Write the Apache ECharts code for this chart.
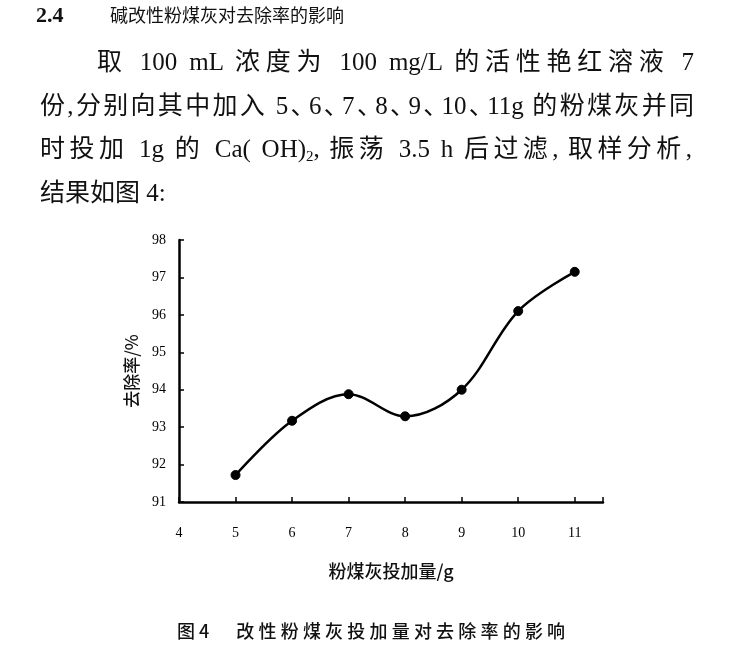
<!DOCTYPE html>
<html>
<head>
<meta charset="utf-8">
<script src="https://cdn.jsdelivr.net/npm/echarts@6/dist/echarts.min.js"></script>
<style>
  html, body { margin: 0; padding: 0; background: #fff; }
  #wrap { position: relative; width: 734px; height: 658px; overflow: hidden; }
  #chart { position: absolute; left: 0; top: 0; width: 734px; height: 658px; }
  .t { position: absolute; color: #111; font-family: "Liberation Serif", "Noto Sans CJK SC", serif; white-space: nowrap; z-index: 2; }
  .j { text-align: justify; text-align-last: justify; }
  .dun { margin-right: -9px; }
  .cm { margin-right: 5px; }
  sub { font-size: 0.6em; vertical-align: -0.25em; line-height: 0; }
</style>
</head>
<body>
<div id="wrap">
  <div id="chart"></div>
  <div class="t" style="left:36px; top:2px; height:26px; line-height:26px; font-size:22px; font-weight:bold;">2.4</div>
  <div class="t" style="left:110px; top:4px; height:24px; line-height:24px; font-size:18px;">碱改性粉煤灰对去除率的影响</div>
  <div class="t j" style="left:97px; width:597px; top:47px; height:30px; line-height:30px; font-size:25px;">取 100 mL 浓度为 100 mg/L 的活性艳红溶液 7</div>
  <div class="t j" style="left:40px; width:654px; top:91px; height:30px; line-height:30px; font-size:25px;">份,分别向其中加入 5<span class="dun">、</span>6<span class="dun">、</span>7<span class="dun">、</span>8<span class="dun">、</span>9<span class="dun">、</span>10<span class="dun">、</span>11g 的粉煤灰并同</div>
  <div class="t j" style="left:40px; width:652px; top:134px; height:30px; line-height:30px; font-size:25px;">时投加 1g 的 Ca( OH)<sub>2</sub><span class="cm">,</span>振荡 3.5 h 后过滤<span class="cm">,</span>取样分析<span>,</span></div>
  <div class="t" style="left:40px; top:178px; height:30px; line-height:30px; font-size:25px;">结果如图 4:</div>
  <div class="t" style="left:177px; top:618px; height:24px; line-height:24px; font-size:18px; font-weight:500; font-family:'Noto Sans CJK SC', sans-serif;">图 4<span style="display:inline-block; width:27px;"></span><span style="letter-spacing:4.2px;">改性粉煤灰投加量对去除率的影响</span></div>
</div>
<script>
// ---- data ----
var xTicks = [4, 5, 6, 7, 8, 9, 10, 11];
var yTicks = [91, 92, 93, 94, 95, 96, 97, 98];
var dosage = [5, 6, 7, 8, 9, 10, 11];              // 粉煤灰投加量 / g
var removalRate = [91.72, 93.17, 93.88, 93.29, 94.0, 96.1, 97.15]; // 去除率 / %
var xAxisName = '粉煤灰投加量/g';
var yAxisName = '去除率/%';

var chart = echarts.init(document.getElementById('chart'), null, { renderer: 'canvas' });
var seriesData = dosage.map(function (x, i) { return [x, removalRate[i]]; });

var option = {
  backgroundColor: '#ffffff',
  animation: false,
  grid: { left: 179, right: 131, top: 240, bottom: 156, containLabel: false },
  xAxis: {
    type: 'value',
    min: xTicks[0],
    max: 11.5,
    interval: 1,
    name: xAxisName,
    nameLocation: 'middle',
    nameGap: 60,
    nameTextStyle: { color: '#111', fontSize: 18, fontWeight: 500, fontFamily: 'Noto Sans CJK SC' },
    axisLine: { show: true, onZero: false, lineStyle: { color: '#000', width: 2.5 } },
    axisTick: { show: true, inside: true, length: 5, lineStyle: { color: '#000', width: 1.5 } },
    axisLabel: {
      color: '#000', fontSize: 14, fontFamily: 'Liberation Serif', margin: 24,
      formatter: function (v) { return xTicks.indexOf(v) >= 0 ? String(v) : ''; }
    },
    splitLine: { show: false }
  },
  yAxis: {
    type: 'value',
    min: yTicks[0],
    max: yTicks[yTicks.length - 1],
    interval: 1,
    name: yAxisName,
    nameLocation: 'middle',
    nameGap: 39,
    nameRotate: 90,
    nameTextStyle: { color: '#111', fontSize: 17, fontWeight: 500, fontFamily: 'Noto Sans CJK SC' },
    axisLine: { show: true, onZero: false, lineStyle: { color: '#000', width: 2.5 } },
    axisTick: { show: true, inside: true, length: 5, lineStyle: { color: '#000', width: 1.5 } },
    axisLabel: {
      color: '#000', fontSize: 14, fontFamily: 'Liberation Serif', margin: 13,
      formatter: function (v) { return yTicks.indexOf(v) >= 0 ? String(v) : ''; }
    },
    splitLine: { show: false }
  },
  series: [{
    type: 'line',
    data: seriesData,
    smooth: 0.35,
    symbol: 'circle',
    symbolSize: 9,
    showSymbol: true,
    lineStyle: { color: '#000', width: 2.5 },
    itemStyle: { color: '#000', borderColor: '#000' }
  }]
};
chart.setOption(option);
</script>
</body>
</html>
